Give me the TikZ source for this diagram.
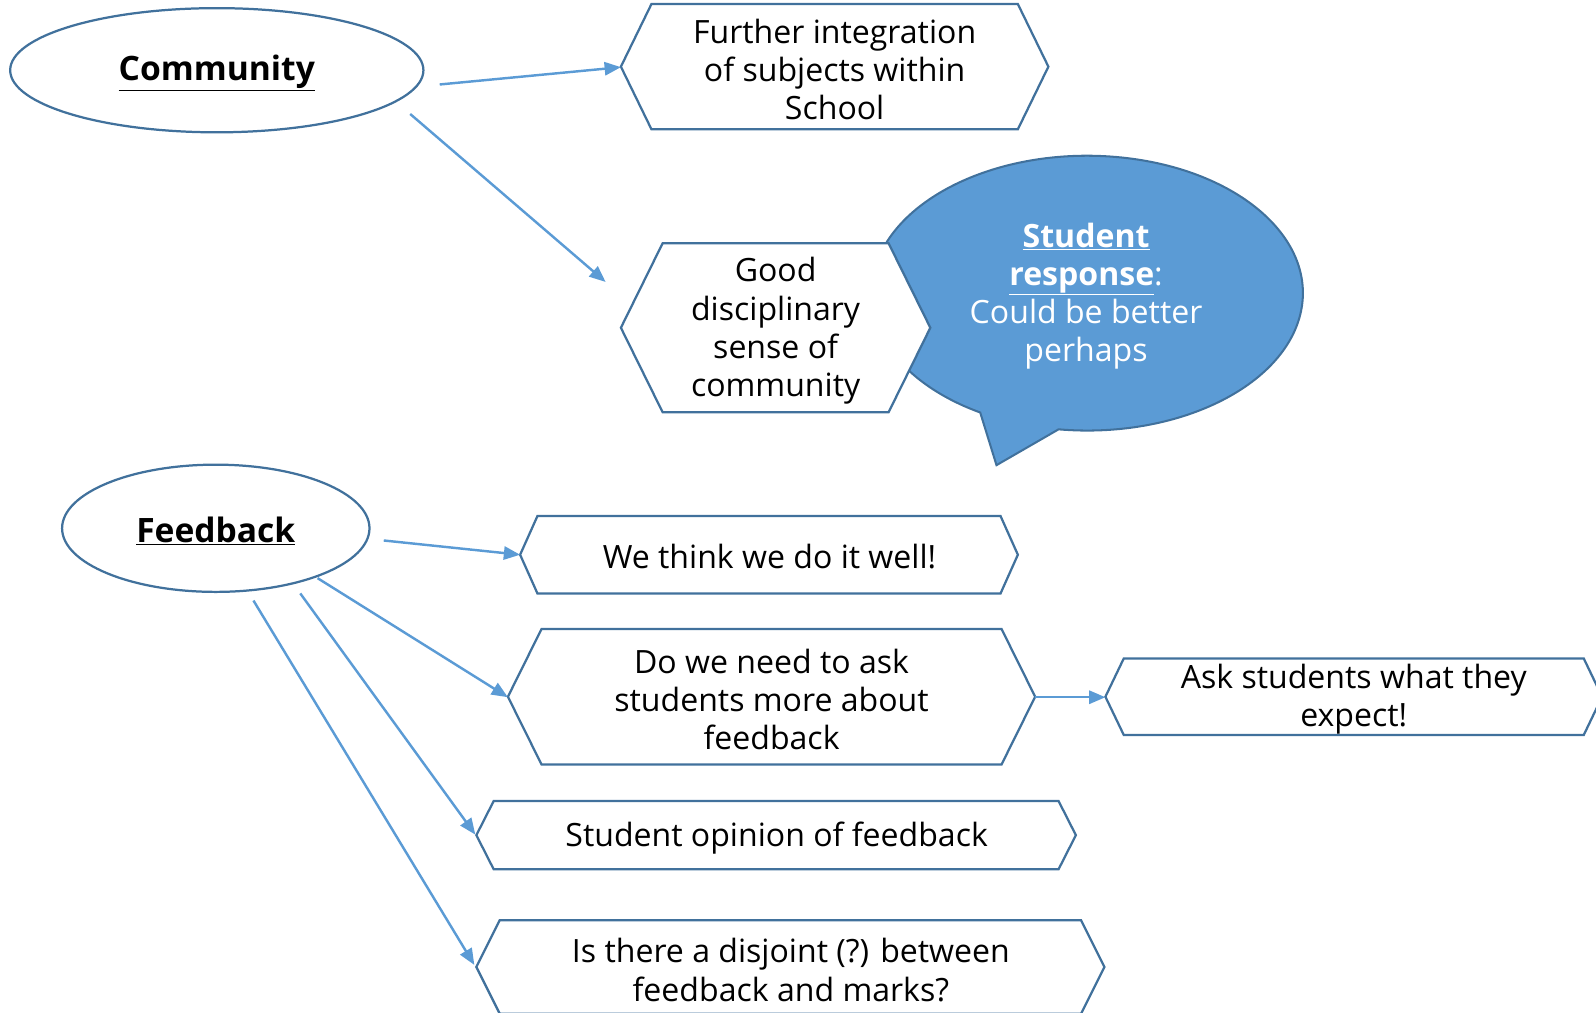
\documentclass[tikz,border=0pt]{standalone}
\usepackage{fontspec}
\setmainfont{Open Sans}
\usetikzlibrary{shapes.geometric,arrows.meta}
\newcommand\myhex[5]{% #1 left x, #2 right x, #3 top y, #4 bottom y, #5 inset
  \draw[hexline] (#1,{(#3+#4)/2}) -- (#1+#5,#3) -- (#2-#5,#3) -- (#2,{(#3+#4)/2}) -- (#2-#5,#4) -- (#1+#5,#4) -- cycle;}
\definecolor{outl}{HTML}{41719C}
\definecolor{arr}{HTML}{5B9BD5}
\begin{document}
\begin{tikzpicture}[x=1pt,y=-1pt,
  hexline/.style={draw=outl,line width=2.2pt,fill=white,line join=miter},
  oval/.style={ellipse,draw=outl,line width=2.2pt,inner sep=0pt},
  conn/.style={draw=arr,line width=2.4pt,-{Triangle[length=16pt,width=13pt]}},
  txt/.style={align=center,font=\fontsize{31.5}{37.5}\selectfont,inner sep=0pt},
  head/.style={font=\fontsize{33}{40}\selectfont\bfseries,inner sep=0pt}]
\useasboundingbox (0,0) rectangle (1568,995);
% ellipses
\node[oval,minimum width=406pt,minimum height=122pt] (comm) at (213,69) {};
\node[head] (commt) at (213,72) {\underline{Community}};
\node[oval,minimum width=302pt,minimum height=125pt] (feed) at (212,519) {};
\node[head] (feedt) at (212,522) {\underline{Feedback}};
% speech bubble
\draw[draw=outl,fill=arr,line width=2pt] (979,457) -- (1040,421.8)
  arc[start angle=97.6,end angle=-240.3,x radius=212,y radius=135] -- cycle;
\node[txt,text=white] (resp) at (1067,291) {\textbf{\underline{Student}}\\\textbf{\underline{response}}:\\Could be better\\perhaps};
% hexagons
\myhex{610}{1030}{4}{127}{30}
\node[txt] (h1) at (820,68) {Further integration\\of subjects within\\School};
\myhex{610}{914}{239}{405}{41}
\node[txt] (h2) at (762,325) {Good\\disciplinary\\sense of\\community};
\myhex{511}{1000}{507}{583}{17}
\node[txt] (h3) at (756,547) {We think we do it well!};
\myhex{499}{1017}{618}{751}{33}
\node[txt] (h4) at (758,687) {Do we need to ask\\students more about\\feedback};
\myhex{1086}{1574}{647}{722}{18}
\node[txt] (h5) at (1330,687) {Ask students what they\\expect!};
\myhex{468}{1057}{787}{854}{17}
\node[txt] (h6) at (763,823) {Student opinion of feedback};
\myhex{468}{1085}{904}{996}{23}
\node[txt] (h7) at (777,953) {Is there a disjoint (?) between\\feedback and marks?};
% connector end points
\coordinate (c1s) at (432,83);  \coordinate (h1w) at (610,66);
\coordinate (c2s) at (403,112); \coordinate (h2w) at (595,277);
\coordinate (f1s) at (377,531); \coordinate (h3w) at (511,545);
\coordinate (f2s) at (312,568); \coordinate (h4w) at (499,685);
\coordinate (f3s) at (295,583); \coordinate (h6w) at (467,820);
\coordinate (f4s) at (249,590); \coordinate (h7w) at (466,948);
\coordinate (h4e) at (1017,685); \coordinate (h5w) at (1086,685);
\draw[conn] (c1s) -- (h1w);
\draw[conn] (c2s) -- (h2w);
\draw[conn] (f1s) -- (h3w);
\draw[conn] (f2s) -- (h4w);
\draw[conn] (f3s) -- (h6w);
\draw[conn] (f4s) -- (h7w);
\draw[conn] (h4e) -- (h5w);
\end{tikzpicture}
\end{document}
